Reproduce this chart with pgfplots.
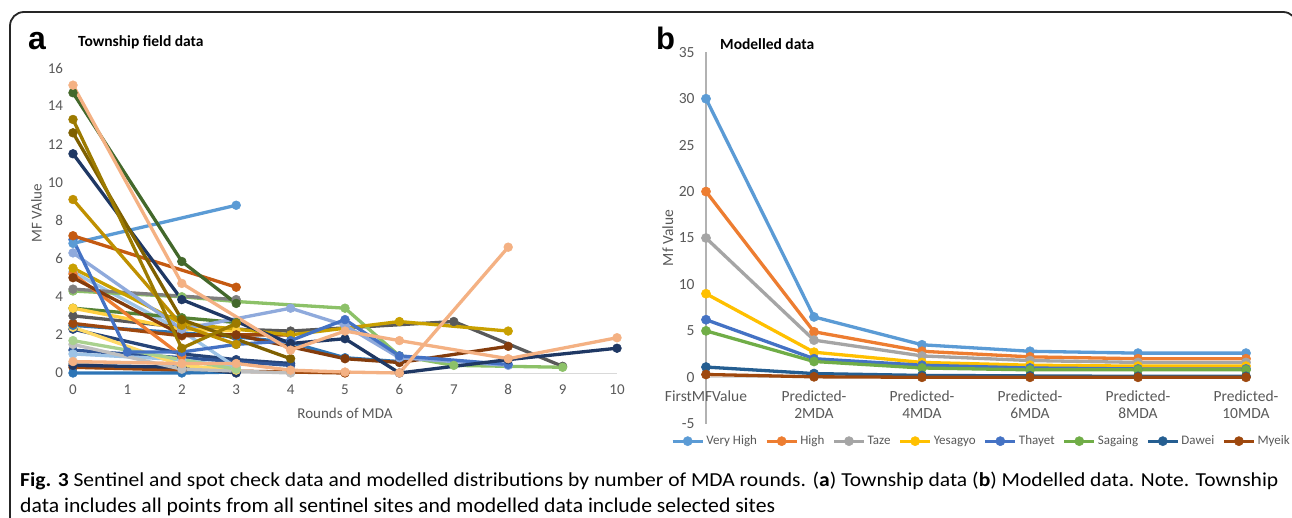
\documentclass[border=0pt]{standalone}
\usepackage{fontspec}
\setmainfont{Carlito}
\newfontfamily\arialf{Liberation Sans}
\usepackage{graphicx}
\usepackage{pgfplots}
\pgfplotsset{compat=1.18}

\definecolor{tickgray}{HTML}{595959}
% panel a colours
\definecolor{cPeach}{HTML}{F4B183}
\definecolor{cDkGreen}{HTML}{43682B}
\definecolor{cGoldB}{HTML}{9C7A00}
\definecolor{cOlive}{HTML}{7F6000}
\definecolor{cNavy}{HTML}{1F3864}
\definecolor{cGoldA}{HTML}{BF9000}
\definecolor{cRust}{HTML}{C55A11}
\definecolor{cLtBlue}{HTML}{5B9BD5}
\definecolor{cBlue}{HTML}{4472C4}
\definecolor{cLav}{HTML}{8FAADC}
\definecolor{cGoldC}{HTML}{C9A000}
\definecolor{cBrown}{HTML}{843C0C}
\definecolor{cOrange}{HTML}{ED7D31}
\definecolor{cGray}{HTML}{7F7F7F}
\definecolor{cLtGreen}{HTML}{8CC168}
\definecolor{cYellow}{HTML}{FFD040}
\definecolor{cGreen}{HTML}{548235}
\definecolor{cDkGray}{HTML}{595959}
\definecolor{cMyeik}{HTML}{9E480E}
\definecolor{cNavy2}{HTML}{264478}
\definecolor{cYellow2}{HTML}{FFD966}
\definecolor{cLtGreen2}{HTML}{A9D18E}
\definecolor{cLtGray}{HTML}{BFBFBF}
\definecolor{cBlue2}{HTML}{2E75B6}
\definecolor{cBlue3}{HTML}{2F5597}
\definecolor{cLtBlue2}{HTML}{9DC3E6}
\definecolor{cGray2}{HTML}{A5A5A5}
% panel b colours
\definecolor{bVeryHigh}{HTML}{5B9BD5}
\definecolor{bHigh}{HTML}{ED7D31}
\definecolor{bTaze}{HTML}{A5A5A5}
\definecolor{bYesagyo}{HTML}{FFC000}
\definecolor{bThayet}{HTML}{4472C4}
\definecolor{bSagaing}{HTML}{70AD47}
\definecolor{bDawei}{HTML}{255E91}
\definecolor{bMyeik}{HTML}{9E480E}

\begin{document}
\begin{tikzpicture}
\useasboundingbox (0pt,0pt) rectangle (1292pt,-518pt);
\fill[white] (0pt,0pt) rectangle (1292pt,-518pt);
\draw[line width=1.8pt, rounded corners=14pt, color=black!85]
  (10pt,-600pt) -- (10pt,-12pt) -- (1297pt,-12pt) -- (1297pt,-600pt);

% ---------- panel a ----------
\begin{axis}[
  at={(73pt,-373pt)}, anchor=south west,
  scale only axis, width=544pt, height=305pt,
  xmin=0, xmax=10, ymin=0, ymax=16,
  clip=false,
  axis x line*=bottom, axis y line*=left,
  x axis line style={draw=black!15, line width=1pt, -},
  y axis line style={draw=none},
  xtick={0,...,10}, ytick={0,2,...,16},
  major tick length=0pt,
  tick label style={text=tickgray, font=\fontsize{15}{17}\selectfont},
  xticklabel style={yshift=-8pt},
  yticklabel style={xshift=-6.5pt},
  /pgf/number format/assume math mode=true,
  every axis plot/.append style={line width=3.3pt, mark=*, mark size=4.4pt, mark options={line width=0.5pt}},
]
\addplot[cNavy2]  coordinates {(0,2.3)(2,1.0)(3,0.7)(4,0.5)};
\addplot[cBlue3]  coordinates {(0,1.2)(2,0.8)(4,0.4)};
\addplot[cGray2]  coordinates {(0,0.5)(2,0.1)(3,0.1)};
\addplot[cMyeik]  coordinates {(0,0.3)(2,0.15)(4,0.05)(5,0)};
\addplot[cBlue2]  coordinates {(0,0)(2,0)(3,0.05)};
\addplot[cNavy]   coordinates {(0,0.4)(2,0.3)(3,0)};
\addplot[cLtBlue2] coordinates {(0,1.0)(2,0.7)(3,0.3)};
\addplot[cLtBlue2] coordinates {(0,5.3)(2,2.2)(3,0.3)};
\addplot[cYellow2] coordinates {(0,2.4)(2,0.4)(3,0.15)};
\addplot[cLtGray] coordinates {(0,1.5)(2,0.2)(4,0.0)};
\addplot[cLtGreen2] coordinates {(0,1.7)(3,0.2)};
\addplot[cBlue2]  coordinates {(0,2.5)(3,1.9)(4,1.6)(5,0.8)(6,0.6)};
\addplot[cMyeik]  coordinates {(0,2.6)(2,1.95)(3,2.0)(4,2.0)};
\addplot[cDkGray] coordinates {(0,3.0)(2,2.4)(4,2.2)(7,2.7)(9,0.35)};
\addplot[cGreen]  coordinates {(0,3.4)(2,2.9)(3,2.65)};
\addplot[cYellow] coordinates {(0,3.4)(2,2.3)(3,2.2)};
\addplot[cLtGreen] coordinates {(0,4.3)(2,4.0)(3,3.75)(5,3.4)(6,0.9)(7,0.4)(9,0.3)};
\addplot[cGray]   coordinates {(0,4.4)(3,3.85)};
\addplot[cOrange] coordinates {(0,5.2)(2,0.9)};
\addplot[cBrown]  coordinates {(0,5.0)(2,2.0)(3,2.0)(5,0.75)(6,0.55)(8,1.4)};
\addplot[cGoldC]  coordinates {(0,5.5)(2,2.6)(4,2.0)(6,2.7)(8,2.2)};
\addplot[cLav]    coordinates {(0,6.3)(2,2.3)(4,3.4)(5,2.5)(6,0.8)(8,0.4)};
\addplot[cBlue]   coordinates {(0,7.0)(1,1.1)(2,1.1)(3,1.5)(4,1.7)(5,2.8)(6,0.9)(8,0.45)};
\addplot[cLtBlue] coordinates {(0,6.8)(3,8.8)};
\addplot[cRust]   coordinates {(0,7.2)(3,4.5)};
\addplot[cGoldA]  coordinates {(0,9.1)(2,2.5)(3,1.5)};
\addplot[cNavy]   coordinates {(0,11.5)(2,3.85)(4,1.55)(5,1.8)(6,0)(8,0.7)(10,1.3)};
\addplot[cOlive]  coordinates {(0,12.6)(2,2.8)(4,0.75)};
\addplot[cGoldB]  coordinates {(0,13.3)(2,1.3)(3,2.6)};
\addplot[cDkGreen] coordinates {(0,14.7)(2,5.85)(3,3.65)};
\addplot[cPeach]  coordinates {(0,15.1)(2,4.7)(4,1.2)(5,2.2)(6,1.7)(8,0.75)(10,1.85)};
\addplot[cPeach]  coordinates {(0,0.6)(2,0.5)(3,0.5)(4,0.15)(5,0.05)(6,0)(8,6.6)};
\end{axis}

% ---------- panel b ----------
\begin{axis}[
  at={(706pt,-423.7pt)}, anchor=south west,
  scale only axis, width=540pt, height=371.4pt,
  xmin=0, xmax=5, ymin=-5, ymax=35,
  clip=false,
  axis x line*=middle, axis y line*=left,
  hide obscured x ticks=false,
  x axis line style={draw=black!15, line width=1pt, -},
  y axis line style={draw=black!30, line width=1.3pt, -},
  xtick={0,...,5},
  xticklabels={FirstMFValue,{Predicted-\\2MDA},{Predicted-\\4MDA},{Predicted-\\6MDA},{Predicted-\\8MDA},{Predicted-\\10MDA}},
  ytick={-5,0,...,35},
  major tick length=0pt,
  tick label style={text=tickgray, font=\fontsize{15.5}{17}\selectfont},
  xticklabel style={align=center, anchor=north, yshift=-9.5pt},
  yticklabel style={xshift=-8pt},
  /pgf/number format/assume math mode=true,
  every axis plot/.append style={line width=3.3pt, mark=*, mark size=4.6pt, mark options={line width=0.5pt}},
  legend columns=8,
  legend style={draw=none, fill=none, at={(0.51,-0.047)}, anchor=center,
    font=\fontsize{13}{15}\selectfont, text=tickgray,
    /tikz/every even column/.append style={column sep=6pt}},
  legend image code/.code={\draw[mark repeat=2,mark phase=2,#1] plot coordinates {(0pt,0pt)(15pt,0pt)(30pt,0pt)};},
]
\addplot[bVeryHigh] coordinates {(0,30)(1,6.5)(2,3.5)(3,2.8)(4,2.6)(5,2.6)};
\addplot[bHigh]     coordinates {(0,20)(1,4.9)(2,2.8)(3,2.2)(4,2.0)(5,2.0)};
\addplot[bTaze]     coordinates {(0,15)(1,4.0)(2,2.3)(3,1.8)(4,1.6)(5,1.6)};
\addplot[bYesagyo]  coordinates {(0,9)(1,2.7)(2,1.6)(3,1.3)(4,1.2)(5,1.2)};
\addplot[bThayet]   coordinates {(0,6.2)(1,2.0)(2,1.3)(3,1.0)(4,0.9)(5,0.9)};
\addplot[bSagaing]  coordinates {(0,5)(1,1.7)(2,1.0)(3,0.8)(4,0.8)(5,0.8)};
\addplot[bDawei]    coordinates {(0,1.1)(1,0.4)(2,0.2)(3,0.15)(4,0.1)(5,0.1)};
\addplot[bMyeik]    coordinates {(0,0.3)(1,0.05)(2,0)(3,0)(4,0)(5,0)};
\legend{Very High,High,Taze,Yesagyo,Thayet,Sagaing,Dawei,Myeik}
\end{axis}

% ---------- titles and labels ----------
\node[anchor=base west, inner sep=0pt] at (28pt,-50pt) {\arialf\bfseries\fontsize{32}{32}\selectfont a};
\node[anchor=base west, inner sep=0pt] at (656pt,-50pt) {\arialf\bfseries\fontsize{31}{31}\selectfont b};
\node[anchor=base west, inner sep=0pt] at (78pt,-46.5pt) {\bfseries\fontsize{15.5}{18}\selectfont Township field data};
\node[anchor=base west, inner sep=0pt] at (720pt,-49.3pt) {\bfseries\fontsize{15.5}{18}\selectfont Modelled data};
\node[anchor=base, inner sep=0pt, text=tickgray] at (345pt,-418pt) {\fontsize{15}{17}\selectfont Rounds of MDA};
\node[anchor=base, inner sep=0pt, rotate=90, text=tickgray] at (41.5pt,-213pt) {\fontsize{15}{17}\selectfont MF VAlue};
\node[anchor=base, inner sep=0pt, rotate=90, text=tickgray] at (673pt,-238pt) {\fontsize{15.5}{17}\selectfont Mf Value};

% ---------- caption ----------
\node[anchor=base west, inner sep=0pt] at (20pt,-486pt)
  {\resizebox{1258pt}{14.5pt}{\fontsize{20}{24}\selectfont\textbf{Fig. 3} Sentinel and spot check data and modelled distributions by number of MDA rounds. (\textbf{a}) Township data (\textbf{b}) Modelled data. Note. Township}};
\node[anchor=base west, inner sep=0pt] at (20pt,-512pt)
  {\resizebox{755pt}{14.5pt}{\fontsize{20}{24}\selectfont data includes all points from all sentinel sites and modelled data include selected sites}};
\end{tikzpicture}
\end{document}
